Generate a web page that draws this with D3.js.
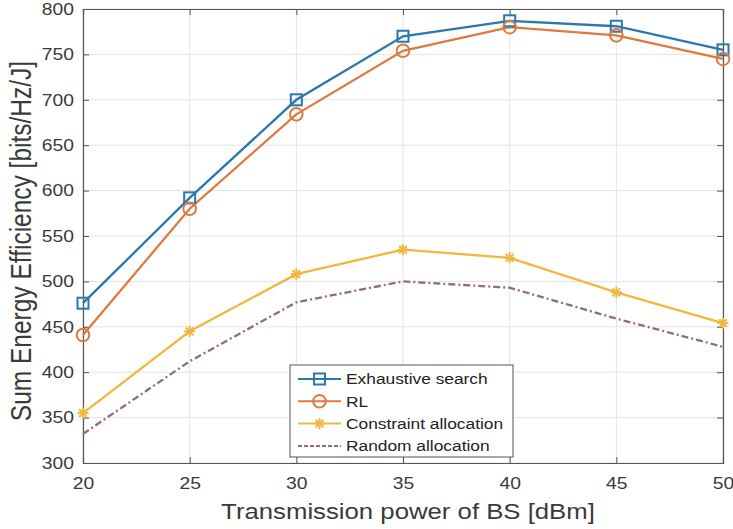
<!DOCTYPE html>
<html>
<head>
<meta charset="utf-8">
<script src="https://cdn.jsdelivr.net/npm/d3@7"></script>
<style>
  body { margin: 0; background: #fff; }
  svg { display: block; font-family: "Liberation Sans", Arial, sans-serif; }
</style>
</head>
<body>
<div id="chart"></div>
<script>
var width = 733, height = 529;
var margin = {top: 9, right: 10, bottom: 66, left: 83};
var stretch = 1.17; // the original figure is a bit wider than tall

var power = [20, 25, 30, 35, 40, 45, 50];
var exhaustive = [476, 592, 700, 770, 787, 781, 755];
var rl = [441, 580, 684, 754, 780, 771, 745];
var constraint = [355, 445, 508, 535, 526, 488, 454];
var randomAlloc = [332, 412, 477, 500, 493, 459, 428];
var xTicks = [20, 25, 30, 35, 40, 45, 50];
var yTicks = [300, 350, 400, 450, 500, 550, 600, 650, 700, 750, 800];

var series = [
  {name: "Exhaustive search", values: exhaustive, color: "#2a78ae", marker: "square", dash: null},
  {name: "RL", values: rl, color: "#dd7a40", marker: "circle", dash: null},
  {name: "Constraint allocation", values: constraint, color: "#f0b840", marker: "star", dash: null},
  {name: "Random allocation", values: randomAlloc, color: "#8f6a8c", marker: null, dash: "7,3,2,3"}
];

var svg = d3.select("#chart").append("svg")
  .attr("width", width)
  .attr("height", height);

var x = d3.scaleLinear().domain([20, 50]).range([margin.left, width - margin.right]);
var y = d3.scaleLinear().domain([300, 800]).range([height - margin.bottom, margin.top]);

function widen(sel, k) {
  k = k || stretch;
  sel.attr("transform", function () {
    var tx = +d3.select(this).attr("x") || 0;
    return "translate(" + tx + ",0) scale(" + k + ",1) translate(" + (-tx) + ",0)";
  });
}

// grid
svg.append("g").selectAll("line.gx")
  .data(xTicks).enter().append("line")
  .attr("x1", d => x(d)).attr("x2", d => x(d))
  .attr("y1", y(300)).attr("y2", y(800))
  .attr("stroke", "#e3e3e3").attr("stroke-width", 1);
svg.append("g").selectAll("line.gy")
  .data(yTicks).enter().append("line")
  .attr("x1", x(20)).attr("x2", x(50))
  .attr("y1", d => y(d)).attr("y2", d => y(d))
  .attr("stroke", "#e3e3e3").attr("stroke-width", 1);

// axes
var axisColor = "#555";
var xAxis = svg.append("g")
  .attr("transform", "translate(0," + y(300) + ")")
  .call(d3.axisBottom(x).tickValues(xTicks).tickSize(-6).tickPadding(14));
var yAxis = svg.append("g")
  .attr("transform", "translate(" + x(20) + ",0)")
  .call(d3.axisLeft(y).tickValues(yTicks).tickSize(-6).tickPadding(9));
var xTop = svg.append("g")
  .attr("transform", "translate(0," + y(800) + ")")
  .call(d3.axisTop(x).tickValues(xTicks).tickSize(-6).tickFormat(""));
var yRight = svg.append("g")
  .attr("transform", "translate(" + x(50) + ",0)")
  .call(d3.axisRight(y).tickValues(yTicks).tickSize(-6).tickFormat(""));

[xAxis, yAxis, xTop, yRight].forEach(function (g) {
  g.select(".domain").attr("stroke", axisColor).attr("stroke-width", 1.2);
  g.selectAll(".tick line").attr("stroke", axisColor).attr("stroke-width", 1);
  g.selectAll("text").attr("fill", "#3a3a3a").style("font-size", "16.5px")
    .style("font-family", "'Liberation Sans', Arial, sans-serif")
    .call(widen);
});

// lines
var line = d3.line()
  .x((d, i) => x(power[i]))
  .y(d => y(d));

series.forEach(function (s) {
  svg.append("path")
    .datum(s.values)
    .attr("fill", "none")
    .attr("stroke", s.color)
    .attr("stroke-width", 2.3)
    .attr("stroke-dasharray", s.dash)
    .attr("d", line);
});

function drawMarker(g, type, cx, cy, color) {
  if (type === "square") {
    g.append("rect").attr("x", cx - 5.5).attr("y", cy - 5.5).attr("width", 11).attr("height", 11)
      .attr("fill", "none").attr("stroke", color).attr("stroke-width", 2);
  } else if (type === "circle") {
    g.append("circle").attr("cx", cx).attr("cy", cy).attr("r", 6.3)
      .attr("fill", "none").attr("stroke", color).attr("stroke-width", 2);
  } else if (type === "star") {
    var r = 5.5;
    [0, 45, 90, 135].forEach(function (a) {
      var rad = a * Math.PI / 180;
      g.append("line")
        .attr("x1", cx - r * Math.cos(rad)).attr("y1", cy - r * Math.sin(rad))
        .attr("x2", cx + r * Math.cos(rad)).attr("y2", cy + r * Math.sin(rad))
        .attr("stroke", color).attr("stroke-width", 2);
    });
  }
}

series.forEach(function (s) {
  if (!s.marker) return;
  var g = svg.append("g");
  s.values.forEach(function (v, i) {
    drawMarker(g, s.marker, x(power[i]), y(v), s.color);
  });
});

// axis labels
svg.append("text")
  .attr("x", 408)
  .attr("y", 519)
  .attr("text-anchor", "middle")
  .attr("fill", "#3a3a3a")
  .style("font-size", "22px")
  .text("Transmission power of BS [dBm]")
  .call(widen);

svg.append("text")
  .attr("transform", "translate(31,241) scale(" + stretch + ",1) rotate(-90)")
  .attr("text-anchor", "middle")
  .attr("fill", "#3a3a3a")
  .style("font-size", "24.5px")
  .text("Sum Energy Efficiency [bits/Hz/J]");

// legend
var lg = svg.append("g").attr("transform", "translate(290,365)");
lg.append("rect")
  .attr("width", 223).attr("height", 92)
  .attr("fill", "#fff").attr("stroke", "#555").attr("stroke-width", 1);

series.forEach(function (s, i) {
  var ly = 14 + i * 22.3;
  lg.append("line")
    .attr("x1", 8).attr("x2", 51).attr("y1", ly).attr("y2", ly)
    .attr("stroke", s.color).attr("stroke-width", 2)
    .attr("stroke-dasharray", s.dash ? "4,2" : null);
  if (s.marker) drawMarker(lg, s.marker, 29.5, ly, s.color);
  lg.append("text")
    .attr("x", 56).attr("y", ly + 5.5)
    .attr("fill", "#222")
    .style("font-size", "15.5px")
    .text(s.name)
    .call(widen, 1.12);
});
</script>
</body>
</html>
